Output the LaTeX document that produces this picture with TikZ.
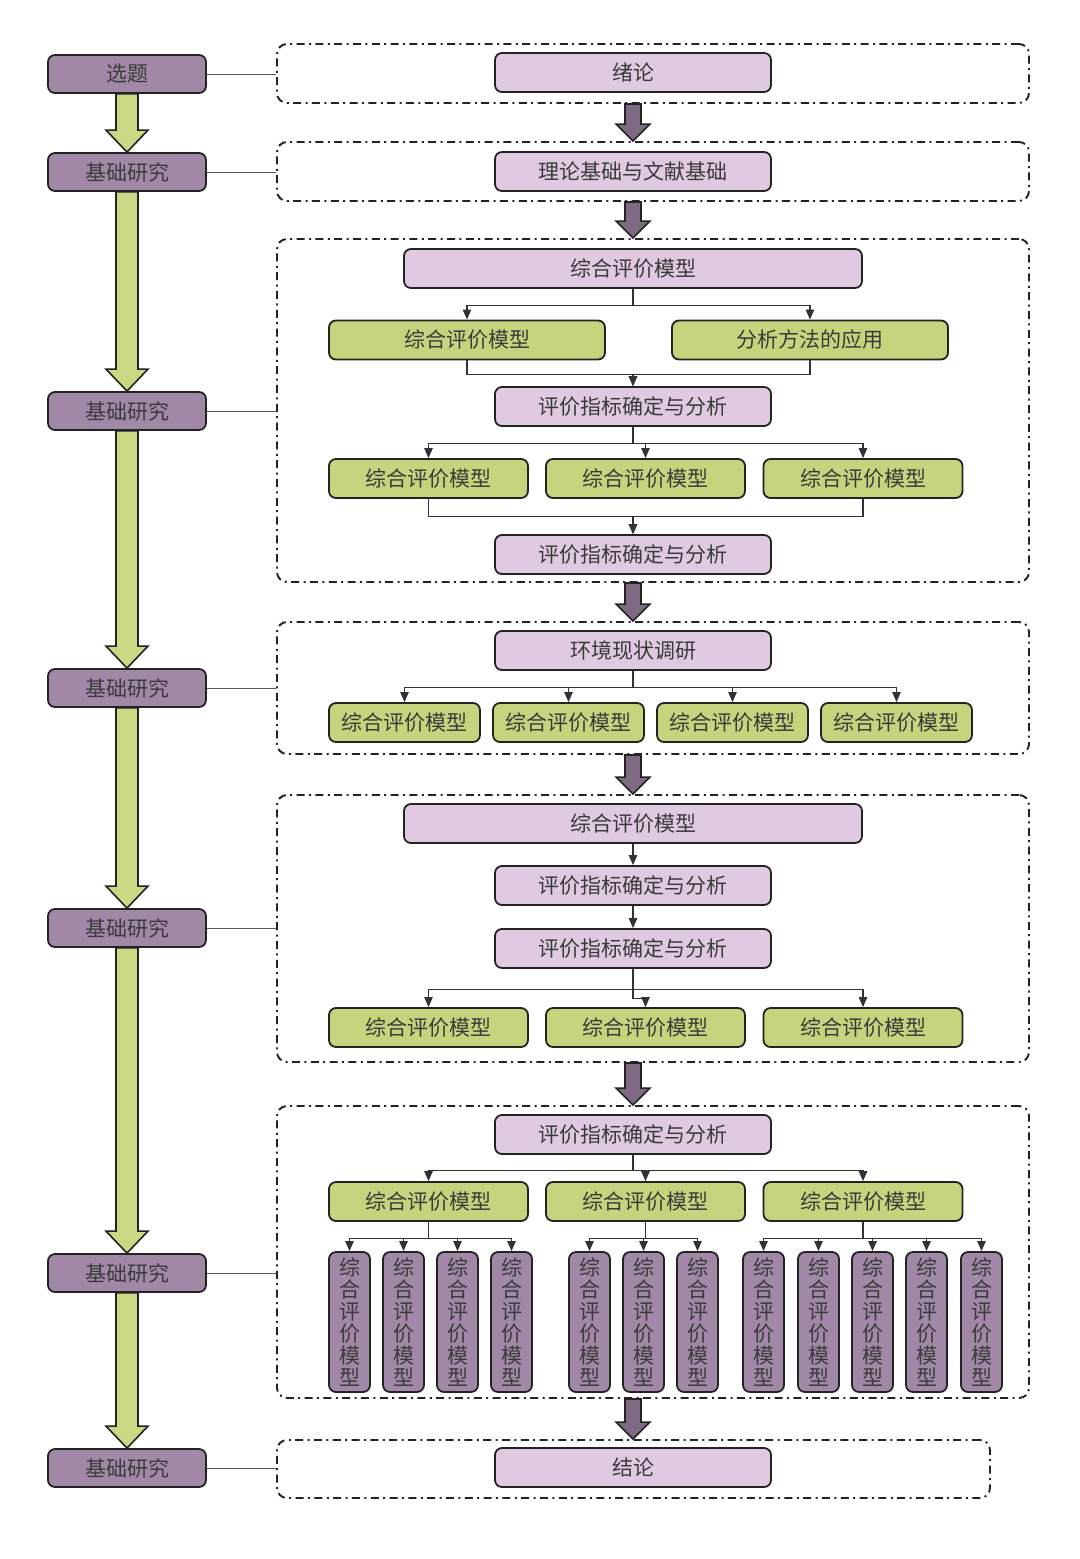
\documentclass[tikz,border=0pt]{standalone}
\usepackage{fontspec}
\newfontfamily\cjk{Noto Sans CJK SC}
\usetikzlibrary{arrows.meta,calc}
\definecolor{lpurple}{RGB}{160,136,166}
\definecolor{pinkbox}{RGB}{223,202,226}
\definecolor{greenbox}{RGB}{200,211,126}
\definecolor{greenarrow}{RGB}{203,217,132}
\definecolor{darkarrow}{RGB}{126,106,130}
\definecolor{txt}{RGB}{58,58,58}
\definecolor{edge}{RGB}{35,35,35}
\definecolor{conncol}{RGB}{50,50,50}
\tikzset{
  basebox/.style={draw=edge,line width=0.9pt,rounded corners=3.5pt,inner sep=0pt,
    font=\cjk\fontsize{10.5}{12}\selectfont,text=txt},
  leftbox/.style={basebox,fill=lpurple,minimum width=79pt,minimum height=19pt},
  pinkstd/.style={basebox,fill=pinkbox,minimum width=138pt,minimum height=19.5pt},
  pinkwide/.style={basebox,fill=pinkbox,minimum width=229pt,minimum height=19.5pt},
  greenwide/.style={basebox,fill=greenbox,minimum width=138pt,minimum height=19.5pt},
  greenmid/.style={basebox,fill=greenbox,minimum width=99.5pt,minimum height=19.5pt},
  greensmall/.style={basebox,fill=greenbox,minimum width=75.5pt,minimum height=19.5pt},
  vbox/.style={basebox,fill=lpurple,minimum width=20.5pt,minimum height=70pt,
    align=center,font=\cjk\fontsize{10.5}{11}\selectfont},
  frame/.style={draw=edge,line width=0.95pt,rounded corners=5pt,inner sep=0pt,
    dash pattern=on 4pt off 2.2pt on 1pt off 2.2pt},
  side/.style={draw=conncol!80,line width=0.5pt},
  conn/.style={draw=conncol,line width=0.55pt},
  carr/.style={conn,-{Triangle[length=5pt,width=4.2pt]}},
  garrow/.style={fill=greenarrow,draw=edge,line width=0.8pt,line join=miter},
  darrow/.style={fill=darkarrow,draw=edge,line width=0.8pt,line join=miter},
}
% #1 start coord, #2 end coord, #3 shaft half width, #4 head half width, #5 head length, #6 style
\newcommand\BigArrow[6]{%
  \filldraw[#6] let \p1=#1, \p2=#2 in
    (\x1-#3,\y1) -- (\x1-#3,\y2+#5) -- (\x1-#4,\y2+#5) -- (\x1,\y2)
    -- (\x1+#4,\y2+#5) -- (\x1+#3,\y2+#5) -- (\x1+#3,\y1) -- cycle;}
\begin{document}
\begin{tikzpicture}[x=0.5pt,y=-0.5pt]
\useasboundingbox[fill=white] (0,0) rectangle (1080,1559);

% frames
\node[frame,minimum width=376pt,minimum height=29.5pt] (f1) at (653,73.5) {};
\node[frame,minimum width=376pt,minimum height=29.5pt] (f2) at (653,171.5) {};
\node[frame,minimum width=376pt,minimum height=171.5pt] (f3) at (653,410.5) {};
\node[frame,minimum width=376pt,minimum height=66pt] (f4) at (653,688) {};
\node[frame,minimum width=376pt,minimum height=133.5pt] (f5) at (653,928.5) {};
\node[frame,minimum width=376pt,minimum height=146pt] (f6) at (653,1252) {};
\node[frame,minimum width=356.5pt,minimum height=29pt] (f7) at (633.5,1469) {};

% left column
\node[leftbox] (L0) at (127,74) {选题};
\node[leftbox] (L1) at (127,172) {基础研究};
\node[leftbox] (L2) at (127,411) {基础研究};
\node[leftbox] (L3) at (127,688) {基础研究};
\node[leftbox] (L4) at (127,928) {基础研究};
\node[leftbox] (L5) at (127,1273) {基础研究};
\node[leftbox] (L6) at (127,1468) {基础研究};

\foreach \a/\b in {L0/L1,L1/L2,L2/L3,L3/L4,L4/L5,L5/L6}
  \BigArrow{(\a.south)}{(\b.north)}{5.5pt}{10.5pt}{11pt}{garrow};

\foreach \a/\b in {L0/f1,L1/f2,L2/f3,L3/f4,L4/f5,L5/f6,L6/f7}
  \draw[side] (\a.east) -- (\a.east -| \b.west);

% frame 1, 2
\node[pinkstd] (n1) at (633,72.5) {绪论};
\node[pinkstd] (n2) at (633,171.5) {理论基础与文献基础};

% frame 3
\node[pinkwide] (a1) at (633,268.5) {综合评价模型};
\node[greenwide] (a2) at (467,340) {综合评价模型};
\node[greenwide] (a3) at (810,340) {分析方法的应用};
\node[pinkstd] (a4) at (633,406.5) {评价指标确定与分析};
\node[greenmid] (a5) at (428.5,478.5) {综合评价模型};
\node[greenmid] (a6) at (645.5,478.5) {综合评价模型};
\node[greenmid] (a7) at (863,478.5) {综合评价模型};
\node[pinkstd] (a8) at (633,554.5) {评价指标确定与分析};

\draw[carr] (a1.south) -- ++(0,17) -| (a2.north);
\draw[carr] (a1.south) -- ++(0,17) -| (a3.north);
\draw[carr] (a2.south) -- ++(0,14) -| (a4.north);
\draw[carr] (a3.south) -- ++(0,14) -| (a4.north);
\draw[carr] (a4.south) -- ++(0,17) -| (a5.north);
\draw[carr] (a4.south) -- ++(0,17) -| (a6.north);
\draw[carr] (a4.south) -- ++(0,17) -| (a7.north);
\draw[carr] (a5.south) -- ++(0,18) -| (a8.north);
\draw[carr] (a7.south) -- ++(0,18) -| (a8.north);

% frame 4
\node[pinkstd] (b1) at (633,650.5) {环境现状调研};
\node[greensmall] (b2) at (404.5,722.5) {综合评价模型};
\node[greensmall] (b3) at (568.5,722.5) {综合评价模型};
\node[greensmall] (b4) at (732.5,722.5) {综合评价模型};
\node[greensmall] (b5) at (896.5,722.5) {综合评价模型};
\foreach \t in {b2,b3,b4,b5}
  \draw[carr] (b1.south) -- ++(0,17) -| (\t.north);

% frame 5
\node[pinkwide] (c1) at (633,823.5) {综合评价模型};
\node[pinkstd] (c2) at (633,885.5) {评价指标确定与分析};
\node[pinkstd] (c3) at (633,948.5) {评价指标确定与分析};
\node[greenmid] (c4) at (428.5,1027.5) {综合评价模型};
\node[greenmid] (c5) at (645.5,1027.5) {综合评价模型};
\node[greenmid] (c6) at (863,1027.5) {综合评价模型};
\draw[carr] (c1.south) -- (c2.north);
\draw[carr] (c2.south) -- (c3.north);
\draw[carr] (c3.south) -- ++(0,21) -| (c4.north);
\draw[carr] (c3.south) -- ++(0,21) -| (c6.north);
\draw[carr] (c3.south) -- ++(0,30) -| (c5.north);

% frame 6
\node[pinkstd] (d1) at (633,1134.5) {评价指标确定与分析};
\node[greenmid] (d2) at (428.5,1201.5) {综合评价模型};
\node[greenmid] (d3) at (645.5,1201.5) {综合评价模型};
\node[greenmid] (d4) at (863,1201.5) {综合评价模型};
\foreach \t in {d2,d3,d4}
  \draw[carr] (d1.south) -- ++(0,16) -| (\t.north);

\foreach \i/\x in {1/349.5,2/403.5,3/457.5,4/511.5,5/589.5,6/643.5,7/697.5,8/763.5,9/818.5,10/872.5,11/926.5,12/981.5}
  \node[vbox] (v\i) at (\x,1322) {综\\合\\评\\价\\模\\型};
\foreach \t in {v1,v2,v3,v4}
  \draw[carr] (d2.south) -- ++(0,17) -| (\t.north);
\foreach \t in {v5,v6,v7}
  \draw[carr] (d3.south) -- ++(0,17) -| (\t.north);
\foreach \t in {v8,v9,v10,v11,v12}
  \draw[carr] (d4.south) -- ++(0,17) -| (\t.north);

% frame 7
\node[pinkstd] (e1) at (633,1467.5) {结论};

% big dark arrows between frames
\BigArrow{(f1.south -| n1)}{(f2.north -| n1)}{4pt}{8.5pt}{8.5pt}{darrow};
\BigArrow{(f2.south -| n1)}{(f3.north -| n1)}{4pt}{8.5pt}{8.5pt}{darrow};
\BigArrow{(f3.south -| n1)}{(f4.north -| n1)}{4pt}{8.5pt}{8.5pt}{darrow};
\BigArrow{(f4.south -| n1)}{(f5.north -| n1)}{4pt}{8.5pt}{8.5pt}{darrow};
\BigArrow{(f5.south -| n1)}{(f6.north -| n1)}{4pt}{8.5pt}{8.5pt}{darrow};
\BigArrow{(f6.south -| n1)}{(f7.north -| n1)}{4pt}{8.5pt}{8.5pt}{darrow};
\end{tikzpicture}
\end{document}
